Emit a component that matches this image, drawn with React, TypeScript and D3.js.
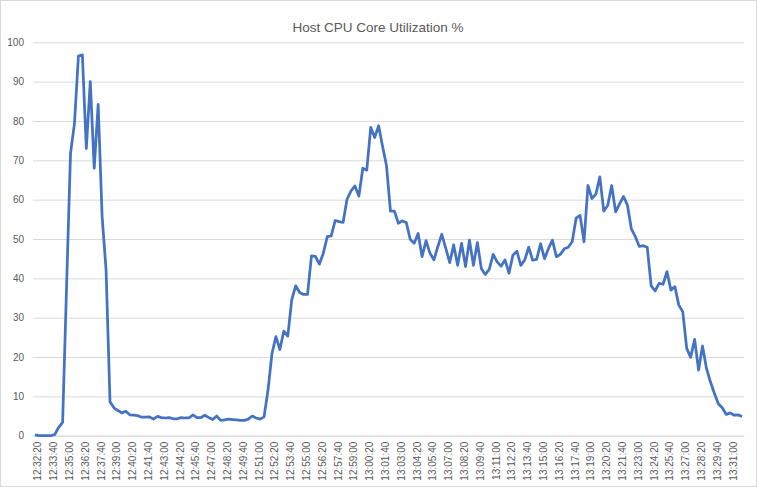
import { useEffect, useRef } from "react";
import * as d3 from "d3";

// ----- Data -------------------------------------------------------------
const title = "Host CPU Core Utilization %";

// one sample every 20 seconds, starting 12:32:20
const startTime = "12:32:20";
const stepSeconds = 20;

const cpuValues = [
  0.2, 0, 0, 0, 0, 0.3, 2.1, 3.4, 38, 71.8,
  79.4, 96.5, 96.8, 73, 90, 68, 84.2, 55.7, 42.1, 8.6,
  7.1, 6.4, 5.8, 6.2, 5.3, 5.2, 5.1, 4.7, 4.7, 4.8,
  4.2, 4.9, 4.6, 4.5, 4.6, 4.3, 4.3, 4.6, 4.5, 4.5,
  5.3, 4.6, 4.6, 5.2, 4.6, 4.1, 5.0, 3.9, 4.0, 4.2,
  4.1, 4.0, 3.9, 3.9, 4.2, 5.0, 4.5, 4.2, 4.8, 11.6,
  20.9, 25.2, 21.9, 26.6, 25.3, 34.5, 38.1, 36.4, 35.9, 35.9,
  45.7, 45.6, 43.6, 46.4, 50.6, 50.8, 54.7, 54.4, 54.2, 60.1,
  62.2, 63.5, 60.9, 68, 67.5, 78.4, 75.8, 78.8, 73.5, 68.6,
  57.1, 57.1, 54, 54.6, 54.2, 49.9, 48.9, 51.4, 45.5, 49.6,
  46.4, 44.7, 48.1, 51.2, 47.6, 44, 48.5, 43.3, 48.9, 43,
  49.7, 43.3, 49.1, 42.5, 41, 42.3, 46.1, 44.2, 43.1, 44.7,
  41.3, 45.9, 46.9, 43.3, 44.7, 47.9, 44.6, 44.8, 48.8, 45,
  47.6, 49.7, 45.5, 46.1, 47.5, 47.9, 49.3, 55.3, 56, 49.3,
  63.6, 60.3, 61.4, 65.8, 57.1, 58.5, 63.6, 56.9, 58.9, 60.8,
  58.6, 52.5, 50.6, 48.1, 48.3, 47.9, 38.1, 36.8, 38.7, 38.5,
  41.7, 37, 37.9, 33.2, 31.5, 22.2, 19.9, 24.5, 16.7, 22.8,
  17.1, 13.7, 10.8, 8.1, 7.1, 5.4, 5.8, 5.2, 5.3, 4.9,
];

const yTicks = [0, 10, 20, 30, 40, 50, 60, 70, 80, 90, 100];
const labelEvery = 4;

const parseTime = d3.timeParse("%H:%M:%S");
const fmtTime = d3.timeFormat("%H:%M:%S");
const t0 = parseTime(startTime) as Date;
const categories = cpuValues.map((_, i) =>
  fmtTime(d3.timeSecond.offset(t0, i * stepSeconds)),
);

const W = 757;
const H = 487;

const App = () => {
  const svgRef = useRef<SVGSVGElement | null>(null);

  useEffect(() => {
    const svg = d3.select(svgRef.current);
    svg.selectAll("*").remove();

    const left = 33;
    const right = 744;
    const top = 42.3;
    const bottom = 435.7;
    const font = "'Liberation Sans', Arial, sans-serif";
    const textColor = "#595959";
    const gridColor = "#d9d9d9";

    // chart frame
    svg
      .append("rect")
      .attr("x", 0.5)
      .attr("y", 0.5)
      .attr("width", W - 1)
      .attr("height", H - 1)
      .attr("fill", "#fff")
      .attr("stroke", gridColor);

    svg
      .append("text")
      .attr("x", 378)
      .attr("y", 32)
      .attr("text-anchor", "middle")
      .attr("font-family", font)
      .attr("font-size", 13.5)
      .attr("fill", textColor)
      .text(title);

    // ----- Scales ---------------------------------------------------------
    const x = d3.scaleBand<string>().domain(categories).range([left, right]);
    const y = d3.scaleLinear().domain([0, 100]).range([bottom, top]);
    const cx = (c: string) => (x(c) as number) + x.bandwidth() / 2;

    // ----- Grid + y axis ---------------------------------------------------
    const yAxis = svg
      .append("g")
      .attr("transform", `translate(${left},0)`)
      .call(
        d3
          .axisLeft(y)
          .tickValues(yTicks)
          .tickSize(-(right - left))
          .tickPadding(9),
      );
    yAxis.select(".domain").remove();
    yAxis.selectAll("line").attr("stroke", gridColor);
    yAxis
      .selectAll("text")
      .attr("font-family", font)
      .attr("font-size", 10)
      .attr("fill", textColor);

    // ----- x axis labels ---------------------------------------------------
    const xAxis = svg
      .append("g")
      .attr("transform", `translate(0,${bottom})`)
      .call(
        d3
          .axisBottom(x)
          .tickValues(categories.filter((_, i) => i % labelEvery === 0))
          .tickSize(0)
          .tickSizeOuter(0),
      );
    xAxis.select(".domain").attr("stroke", gridColor);
    xAxis
      .selectAll("text")
      .attr("font-family", font)
      .attr("font-size", 10)
      .attr("fill", textColor)
      .attr("text-anchor", "end")
      .attr("dy", "0.35em")
      .attr("transform", "translate(0,6) rotate(-90)");

    // ----- Line ------------------------------------------------------------
    const line = d3
      .line<number>()
      .x((_, i) => cx(categories[i]))
      .y((d) => y(d));

    svg
      .append("path")
      .datum(cpuValues)
      .attr("fill", "none")
      .attr("stroke", "#4472C4")
      .attr("stroke-width", 2.75)
      .attr("stroke-linejoin", "round")
      .attr("d", line);
  }, []);

  return (
    <svg
      ref={svgRef}
      width={W}
      height={H}
      style={{ position: "absolute", left: 0, top: 0, display: "block" }}
    />
  );
};

export default App;
